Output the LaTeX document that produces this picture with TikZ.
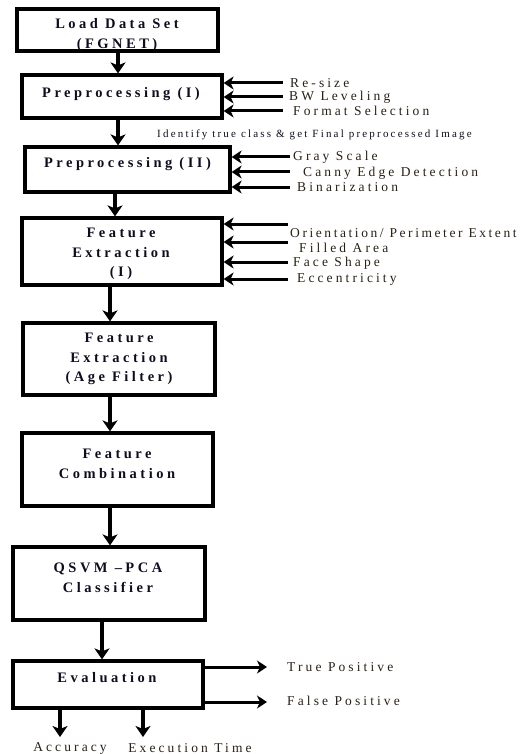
\documentclass[tikz,border=0pt]{standalone}
\usepackage{fontspec}
\setmainfont{Liberation Serif}
\newfontfamily\boxfont[LetterSpace=24]{Liberation Serif}
\newfontfamily\lblfont[LetterSpace=23]{Liberation Serif}
\newfontfamily\lblnarrow[LetterSpace=19]{Liberation Serif}
\newfontfamily\smallfont[LetterSpace=20]{Liberation Serif}
\usetikzlibrary{arrows.meta}
\definecolor{boxcol}{RGB}{15,12,30}
\definecolor{lblcol}{RGB}{40,32,20}
\begin{document}
\begin{tikzpicture}[x=1pt,y=-1pt,
  box/.style={draw, line width=3.2pt, rectangle, inner sep=0pt},
  btext/.style={font=\boxfont\bfseries\fontsize{14.5}{19.5}\selectfont, text=boxcol, align=center, inner sep=0pt},
  lbl/.style={font=\lblfont\fontsize{13.5}{15}\selectfont, text=lblcol, anchor=west, inner sep=0pt},
  flow/.style={line width=3.2pt, -{Stealth[length=11pt,width=15pt,inset=3pt]}},
  inarr/.style={line width=3pt, -{Stealth[length=10pt,width=13pt,inset=3pt]}},
]
\useasboundingbox (0,0) rectangle (528,754);

% boxes
\node[box, minimum width=201pt, minimum height=42pt] (b1) at (117.5,30) {};
\node[box, minimum width=200pt, minimum height=43pt] (b2) at (122,96.5) {};
\node[box, minimum width=205pt, minimum height=45pt] (b3) at (127.5,169.5) {};
\node[box, minimum width=200pt, minimum height=67pt] (b4) at (122,251.5) {};
\node[box, minimum width=192pt, minimum height=72pt] (b5) at (119,359) {};
\node[box, minimum width=191pt, minimum height=73pt] (b6) at (117.5,469.5) {};
\node[box, minimum width=192pt, minimum height=73pt] (b7) at (109,583.5) {};
\node[box, minimum width=190pt, minimum height=47pt] (b8) at (108,684.5) {};

% box texts
\node[btext] (t1) at (117,35) {Load Data Set\\(FGNET)};
\node[btext] (t2) at (121,94) {Preprocessing (I)};
\node[btext] (t3) at (127.5,164) {Preprocessing (II)};
\node[btext] (t4) at (121,254) {Feature\\Extraction\\(I)};
\node[btext] (t5) at (119,359) {Feature\\Extraction\\(Age Filter)};
\node[btext] (t6) at (117,464) {Feature\\Combination};
\node[btext] (t7) at (108,578) {QSVM –PCA\\Classifier};
\node[btext] (t8) at (107,678) {Evaluation};

% main flow
\draw[flow] ([xshift=0.5pt]b1.south) -- ([xshift=-4pt]b2.north);
\draw[flow] ([xshift=-4pt]b2.south) -- ([xshift=-9.5pt]b3.north);
\draw[flow] ([xshift=-12.5pt]b3.south) -- ([xshift=-7pt]b4.north);
\draw[flow] ([xshift=-12pt]b4.south) -- ([xshift=-9pt]b5.north);
\draw[flow] ([xshift=-9pt]b5.south) -- ([xshift=-7.5pt]b6.north);
\draw[flow] ([xshift=-7.5pt]b6.south) -- ([xshift=1pt]b7.north);
\draw[flow] ([xshift=-7pt]b7.south) -- ([xshift=-6pt]b8.north);

% inputs to Preprocessing (I)
\coordinate (p1) at (283,83);
\coordinate (p2) at (283,97);
\coordinate (p3) at (283,111);
\draw[inarr] (p1) -- (p1 -| b2.east);
\draw[inarr] (p2) -- (p2 -| b2.east);
\draw[inarr] (p3) -- (p3 -| b2.east);
\node[lbl] (l1) at (290,83) {Re-size};
\node[lbl] (l2) at (289,97) {BW Leveling};
\node[lbl] (l3) at (293,111) {Format Selection};

\node[lbl, font=\smallfont\fontsize{11}{12}\selectfont, text=boxcol] (id) at (157,135) {Identify true class \& get Final preprocessed Image};

% inputs to Preprocessing (II)
\coordinate (q1) at (290,157);
\coordinate (q2) at (290,172);
\coordinate (q3) at (290,187);
\draw[inarr] (q1) -- (q1 -| b3.east);
\draw[inarr] (q2) -- (q2 -| b3.east);
\draw[inarr] (q3) -- (q3 -| b3.east);
\node[lbl] (l4) at (293,157) {Gray Scale};
\node[lbl] (l5) at (303,173) {Canny Edge Detection};
\node[lbl] (l6) at (297,187) {Binarization};

% inputs to Feature Extraction (I)
\coordinate (r1) at (288,224);
\coordinate (r2) at (288,242);
\coordinate (r3) at (288,262);
\coordinate (r4) at (288,279);
\draw[inarr] (r1) -- (r1 -| b4.east);
\draw[inarr] (r2) -- (r2 -| b4.east);
\draw[inarr] (r3) -- (r3 -| b4.east);
\draw[inarr] (r4) -- (r4 -| b4.east);
\node[lbl, font=\lblnarrow\fontsize{13.5}{15}\selectfont] (l7) at (290,233) {Orientation/ Perimeter Extent};
\node[lbl] (l8) at (299,248) {Filled Area};
\node[lbl] (l9) at (293,263) {Face Shape};
\node[lbl] (l10) at (297,279) {Eccentricity};

% outputs of Evaluation
\coordinate (o1) at (267,667);
\coordinate (o2) at (267,702);
\draw[inarr] (o1 -| b8.east) -- (o1);
\draw[inarr] (o2 -| b8.east) -- (o2);
\node[lbl] (l11) at (287,667) {True Positive};
\node[lbl] (l12) at (287,701) {False Positive};

\coordinate (a1) at (60,737);
\coordinate (a2) at (143,737);
\draw[flow] (b8.south -| a1) -- (a1);
\draw[flow] (b8.south -| a2) -- (a2);
\node[lbl, anchor=center] (acc) at (70,748) {Accuracy};
\node[lbl, anchor=center] (exe) at (190,748) {Execution Time};
\end{tikzpicture}
\end{document}
